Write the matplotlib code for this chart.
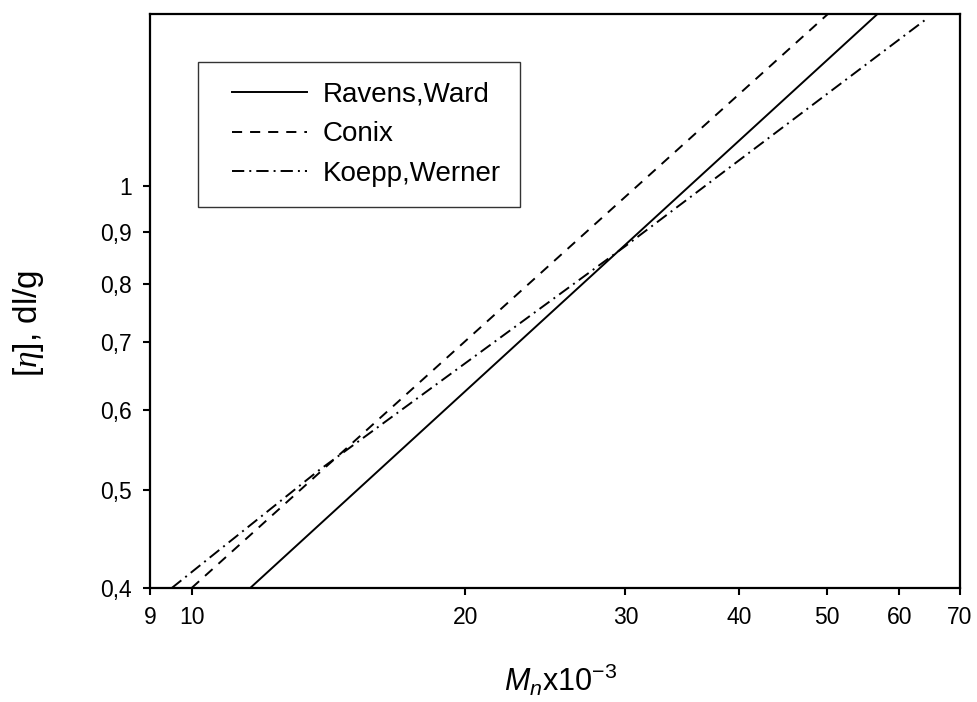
import matplotlib
matplotlib.use('Agg')
import matplotlib.pyplot as plt
from matplotlib.lines import Line2D
from matplotlib.legend_handler import HandlerLine2D
from matplotlib.ticker import FixedLocator, FixedFormatter, NullLocator

# data (M_n x 10^-3, [eta] dl/g)
ravens_m = [11.6, 56.8]
ravens_eta = [0.40, 1.48]
conix_m = [10.0, 50.1]
conix_eta = [0.40, 1.48]
koepp_m = [9.51, 13.8, 30.0, 64.4]
koepp_eta = [0.40, 0.523, 0.872, 1.465]

x_ticks = [9, 10, 20, 30, 40, 50, 60, 70]
x_labels = ['9', '10', '20', '30', '40', '50', '60', '70']
y_ticks = [0.4, 0.5, 0.6, 0.7, 0.8, 0.9, 1.0]
y_labels = ['0,4', '0,5', '0,6', '0,7', '0,8', '0,9', '1']

plt.rcParams['font.family'] = ['Liberation Sans', 'DejaVu Sans']
plt.rcParams['mathtext.fontset'] = 'custom'
plt.rcParams['mathtext.rm'] = 'Liberation Sans'
plt.rcParams['mathtext.it'] = 'Liberation Sans:italic'
plt.rcParams['mathtext.cal'] = 'Liberation Serif:italic'

W, H = 977, 702
fig = plt.figure(figsize=(W / 100, H / 100), dpi=100)
ax = fig.add_axes([150 / W, 1 - 588 / H, 810 / W, 574 / H])

lw = 1.4
ax.plot(ravens_m, ravens_eta, color='black', lw=lw, linestyle='-', label='Ravens,Ward')
ax.plot(conix_m, conix_eta, color='black', lw=lw, linestyle=(0, (5.2, 4.1)), label='Conix')
ax.plot(koepp_m, koepp_eta, color='black', lw=lw, linestyle=(0, (6.3, 2.6, 1.0, 2.6)),
        label='Koepp,Werner')

ax.set_xscale('log')
ax.set_yscale('log')
ax.set_xlim(9, 70)
ax.set_ylim(0.4, 1.48)

ax.xaxis.set_major_locator(FixedLocator(x_ticks))
ax.xaxis.set_major_formatter(FixedFormatter(x_labels))
ax.xaxis.set_minor_locator(NullLocator())
ax.yaxis.set_major_locator(FixedLocator(y_ticks))
ax.yaxis.set_major_formatter(FixedFormatter(y_labels))
ax.yaxis.set_minor_locator(NullLocator())

ax.tick_params(direction='out', length=5, width=1.5, labelsize=16.5, pad=8, colors='black')
for s in ax.spines.values():
    s.set_linewidth(1.6)

fig.text(561 / W, 1 - 680 / H, r'$M_n$x10$^{-3}$', fontsize=22, ha='center', va='center')
fig.text(28 / W, 1 - 323 / H, r'[$\mathcal{\eta}$], dl/g', fontsize=24, ha='center', va='center',
         rotation=90)

leg = ax.legend(loc='upper left', bbox_to_anchor=(198 / W, 1 - 62 / H),
                bbox_transform=fig.transFigure, borderaxespad=0, fontsize=20,
                handlelength=3.22, handletextpad=0.57, borderpad=0.7, labelspacing=0.5,
                handler_map={Line2D: HandlerLine2D(xpad=0.52)},
                fancybox=False, frameon=True)
leg.get_frame().set_edgecolor('black')
leg.get_frame().set_linewidth(1.0)

fig.savefig('out.png', dpi=100)
